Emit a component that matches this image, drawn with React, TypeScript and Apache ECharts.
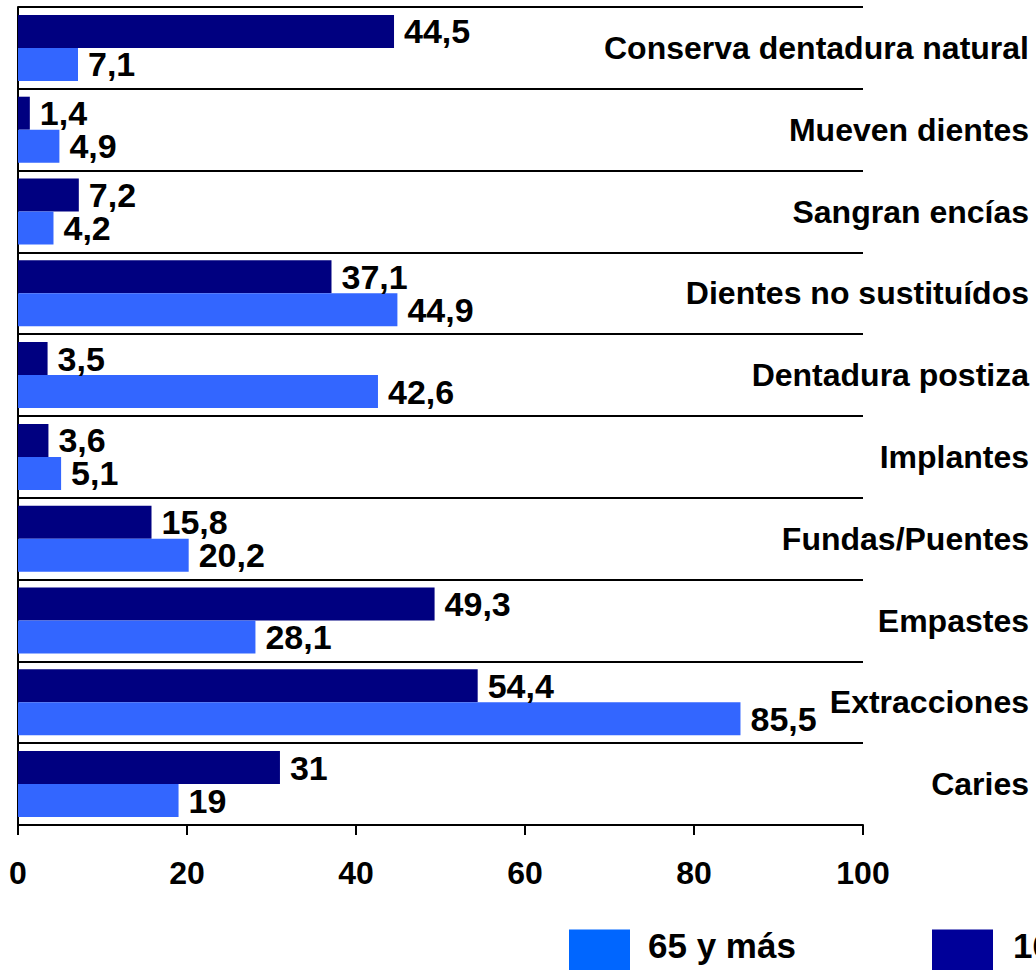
import React, { useEffect, useRef } from "react";
import * as echarts from "echarts";

const categories = [
  "Conserva dentadura natural",
  "Mueven dientes",
  "Sangran encías",
  "Dientes no sustituídos",
  "Dentadura postiza",
  "Implantes",
  "Fundas/Puentes",
  "Empastes",
  "Extracciones",
  "Caries",
];
const darkName = "16-64 años";
const lightName = "65 y más";
const darkValues = [44.5, 1.4, 7.2, 37.1, 3.5, 3.6, 15.8, 49.3, 54.4, 31];
const lightValues = [7.1, 4.9, 4.2, 44.9, 42.6, 5.1, 20.2, 28.1, 85.5, 19];
const xTicks = { min: 0, max: 100, interval: 20 };

const FONT = '"Liberation Sans", Arial, sans-serif';

export default function App() {
  const ref = useRef<HTMLDivElement>(null);
  useEffect(() => {
    if (!ref.current) return;
    const chart = echarts.init(ref.current, null, { renderer: "svg" });
    const fmt = (p: any) => String(p.value).replace(".", ",");
    const labelStyle = {
      show: true,
      position: "right",
      distance: 10,
      formatter: fmt,
      color: "#000",
      fontFamily: FONT,
      fontWeight: "bold",
      fontSize: 34,
    };
    const legendText = (padLeft: number) => ({
      fontFamily: FONT,
      fontWeight: "bold",
      fontSize: 35,
      lineHeight: 28,
      color: "#000",
      padding: [0, 0, 0, padLeft],
    });
    chart.setOption({
      animation: false,
      backgroundColor: "#ffffff",
      textStyle: { fontFamily: FONT },
      grid: { left: 18, right: 173, top: 7, bottom: 145, containLabel: false },
      legend: [
        {
          data: [{ name: lightName, itemStyle: { color: "#0066FF" } }],
          left: 564,
          top: 923,
          itemWidth: 61,
          itemHeight: 60,
          icon: "rect",
          formatter: (n: string) => n + "\n ",
          textStyle: legendText(13),
        },
        {
          data: [{ name: darkName, itemStyle: { color: "#000099" } }],
          left: 927,
          top: 923,
          itemWidth: 61,
          itemHeight: 60,
          icon: "rect",
          formatter: (n: string) => n + "\n ",
          textStyle: legendText(15),
        },
      ],
      xAxis: {
        type: "value",
        min: xTicks.min,
        max: xTicks.max,
        interval: xTicks.interval,
        axisLine: { show: true, lineStyle: { color: "#000", width: 2 } },
        axisTick: { show: true, length: 10, lineStyle: { color: "#000", width: 2 } },
        splitLine: { show: false },
        axisLabel: {
          margin: 32,
          color: "#000",
          fontFamily: FONT,
          fontWeight: "bold",
          fontSize: 32,
        },
      },
      yAxis: {
        type: "category",
        inverse: true,
        data: categories,
        axisLine: { show: true, lineStyle: { color: "#000", width: 2 } },
        axisTick: { show: false },
        splitLine: { show: true, lineStyle: { color: "#000", width: 2 } },
        axisLabel: {
          margin: -1011,
          align: "right",
          color: "#000",
          fontFamily: FONT,
          fontWeight: "bold",
          fontSize: 32,
        },
      },
      series: [
        {
          name: darkName,
          type: "bar",
          data: darkValues,
          barWidth: 33,
          barGap: "0%",
          itemStyle: { color: "#000080" },
          label: labelStyle,
        },
        {
          name: lightName,
          type: "bar",
          data: lightValues,
          barWidth: 33,
          barGap: "0%",
          itemStyle: { color: "#3366FF" },
          label: labelStyle,
        },
      ],
    });
    return () => chart.dispose();
  }, []);
  return (
    <div
      ref={ref}
      style={{
        position: "fixed",
        left: 0,
        top: 0,
        width: 1036,
        height: 970,
        overflow: "hidden",
        background: "#fff",
      }}
    />
  );
}
